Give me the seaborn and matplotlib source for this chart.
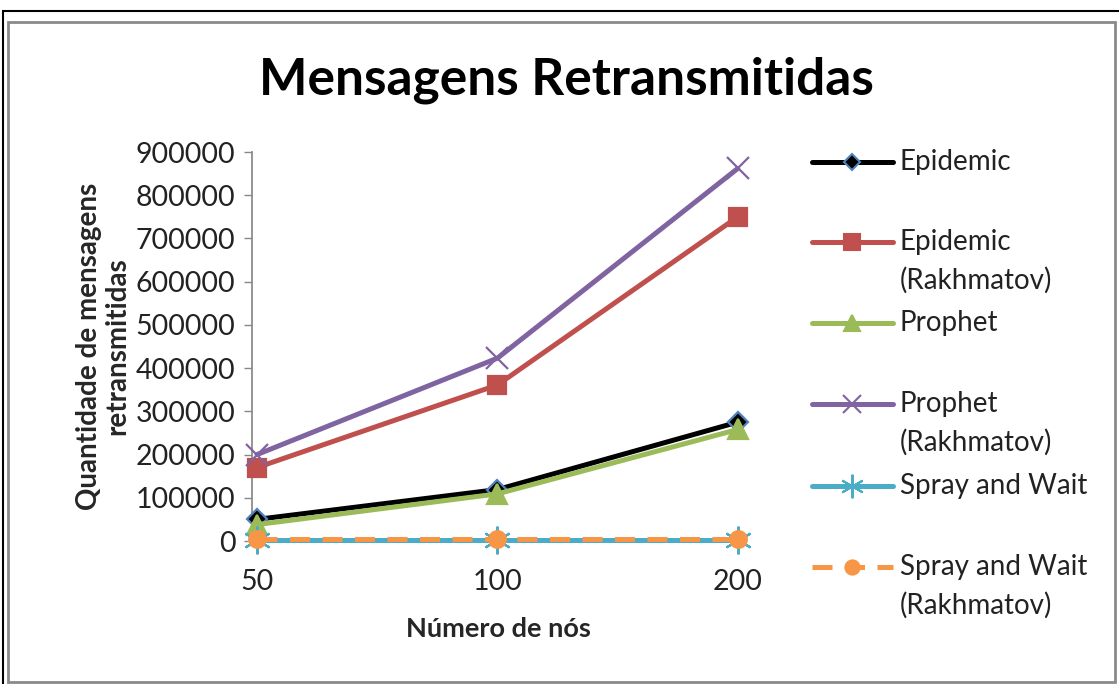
import numpy as np
import pandas as pd
import matplotlib.pyplot as plt
from matplotlib.lines import Line2D
from matplotlib.patches import Rectangle
import seaborn as sns

# data
nodes = ["50", "100", "200"]
epidemic = [50000, 119000, 275000]
epidemic_rakh = [170000, 361000, 750000]
prophet = [38000, 109000, 258000]
prophet_rakh = [200000, 423000, 862000]
spray = [1500, 1500, 1500]
spray_rakh = [5000, 5000, 5000]

series = [
    ("Epidemic", epidemic, dict(color="black", marker="D", mfc="black", mec="#4F81BD", ms=10, ls="-")),
    ("Epidemic\n(Rakhmatov)", epidemic_rakh, dict(color="#C0504D", marker="s", mfc="#C0504D", mec="#C0504D", ms=13, ls="-")),
    ("Prophet", prophet, dict(color="#9BBB59", marker="^", mfc="#9BBB59", mec="#9BBB59", ms=14, ls="-")),
    ("Prophet\n(Rakhmatov)", prophet_rakh, dict(color="#8064A2", marker="x", mfc="#8064A2", mec="#8064A2", ms=16, ls="-")),
    ("Spray and Wait", spray, dict(color="#4BACC6", marker=(6, 2, 0), mfc="#4BACC6", mec="#4BACC6", ms=20, ls="-")),
    ("Spray and Wait\n(Rakhmatov)", spray_rakh, dict(color="#F79646", marker="o", mfc="#F79646", mec="#F79646", ms=12, ls=(0, (4, 2.5)))),
]

sns.set_theme(style="white")
plt.rcParams['font.family'] = ['Lato', 'DejaVu Sans']

fig = plt.figure(figsize=(11.19, 6.84), dpi=100)
ax = fig.add_axes([252 / 1119, 1 - 541 / 684, (745 - 252) / 1119, (541 - 152) / 684])

x = np.arange(len(nodes))
for name, vals, st in series:
    df = pd.DataFrame({"x": x, "y": vals})
    sns.lineplot(data=df, x="x", y="y", ax=ax, color=st["color"], lw=3.6,
                 linestyle=st["ls"], marker=st["marker"], markersize=st["ms"],
                 markerfacecolor=st["mfc"], markeredgecolor=st["mec"],
                 markeredgewidth=1.6, clip_on=False, zorder=3)

ax.set_xlim(-0.021, 2.03)
ax.set_ylim(0, 900000)
ax.set_yticks(np.arange(0, 900001, 100000))
ax.set_yticklabels([str(v) for v in range(0, 900001, 100000)], fontsize=20.5, color="#222222")
ax.set_xticks(x)
ax.set_xticklabels(nodes, fontsize=20.5, color="#222222")
ax.tick_params(axis="y", length=6, width=1, color="#888888", direction="out", left=True, pad=6)
ax.tick_params(axis="x", length=0, pad=20)
for side in ["top", "right"]:
    ax.spines[side].set_visible(False)
ax.spines["left"].set_color("#888888")
ax.spines["bottom"].set_color("#888888")
ax.set_xlabel("Número de nós", fontsize=19.5, fontweight="bold", labelpad=16)
ax.set_ylabel("Quantidade de mensagens\nretransmitidas", fontsize=20, fontweight="bold",
              linespacing=1.1, labelpad=4)

fig.text(0.506, 1 - 80 / 684, "Mensagens Retransmitidas", fontsize=37, fontweight="bold",
         ha="center", va="center", color="black")

# legend drawn Excel-style: handle aligned with first text line
leg_rows = [162, 242, 323, 404, 486, 567]
for (name, vals, st), yy in zip(series, leg_rows):
    yf = 1 - yy / 684
    fig.add_artist(Line2D([812 / 1119, 893 / 1119], [yf, yf], transform=fig.transFigure,
                          color=st["color"], lw=3.6, linestyle=st["ls"]))
    fig.add_artist(Line2D([852 / 1119], [yf], transform=fig.transFigure, marker=st["marker"],
                          markersize=st["ms"] * 0.85, mfc=st["mfc"], mec=st["mec"], mew=1.5, lw=0))
    for i, line in enumerate(name.split("\n")):
        fig.text(900 / 1119, 1 - (yy + 38 * i) / 684, line, fontsize=20, ha="left",
                 va="center", color="#222222", transform=fig.transFigure)

# chart frame
fig.add_artist(Rectangle((3 / 1119, -0.01), 1.1, 1 - 11 / 684 + 0.01, transform=fig.transFigure,
                         fill=False, ec="black", lw=1.5))
fig.add_artist(Rectangle((8 / 1119, 2 / 684), (1115 - 8) / 1119, 1 - 24 / 684, transform=fig.transFigure,
                         fill=False, ec="#8a8a8a", lw=2))

fig.savefig("out.png", dpi=100)
